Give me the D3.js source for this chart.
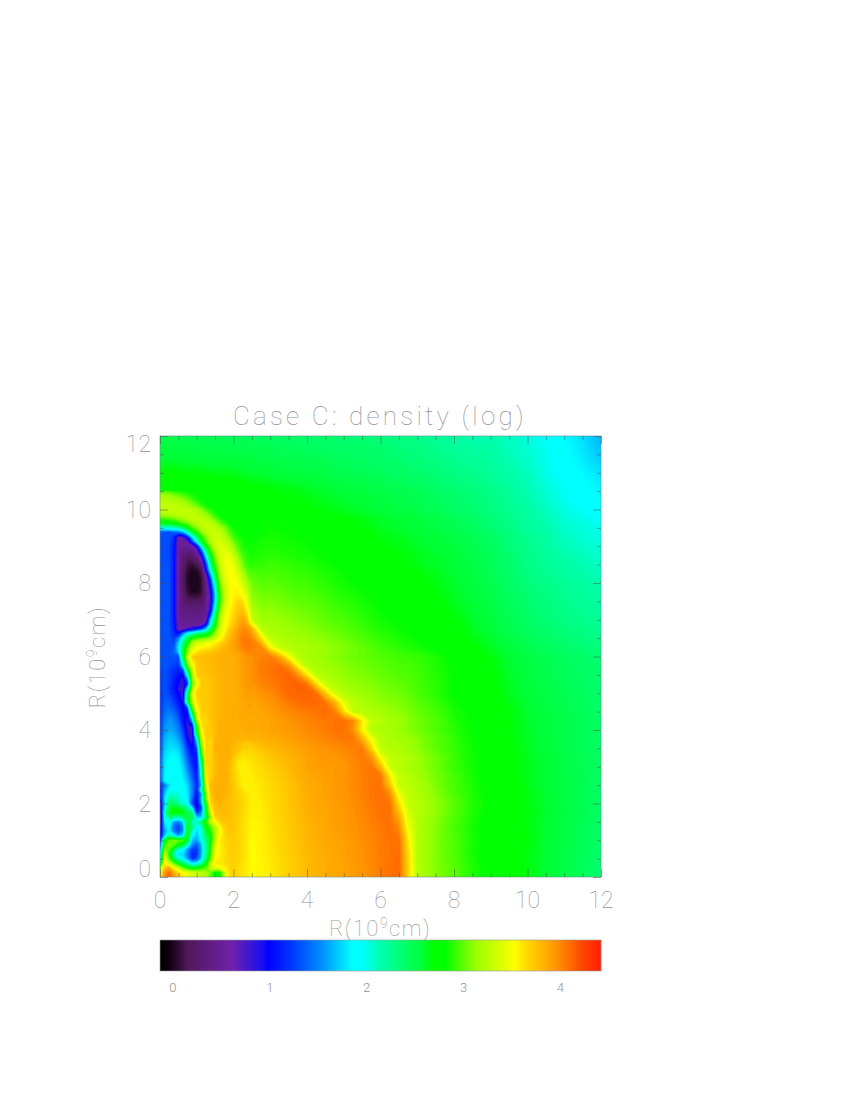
<!DOCTYPE html>
<html>
<head>
<meta charset="utf-8">
<script src="https://cdn.jsdelivr.net/npm/d3@7"></script>
<style>
  html, body { margin: 0; background: #fff; }
  text { font-family: Roboto, "Open Sans", sans-serif; font-weight: 100; fill: #949494; }
  .axis path { display: none; }
  .axis line { stroke: #4d4d4d; stroke-opacity: .5; }
</style>
</head>
<body>
<svg id="chart" width="850" height="1100"></svg>
<script>
//Tick values
var majorTicks = [0, 2, 4, 6, 8, 10, 12];
var minorTicks = [0.5, 1, 1.5, 2.5, 3, 3.5, 4.5, 5, 5.5, 6.5, 7, 7.5, 8.5, 9, 9.5, 10.5, 11, 11.5];
var barTicks = [0, 1, 2, 3, 4];

//Colour table (log density -> colour)
var colorStops = [-0.134, -0.05, 0.15, 0.61, 0.92, 0.98, 1.2, 1.54, 1.85, 1.95, 2.16, 2.6, 2.68, 2.81, 3.12, 3.53, 3.64, 3.95, 4.23, 4.42];
var colorNames = ["#000000", "#0a0008", "#50185a", "#7020a8", "#1a10f0", "#0000ff", "#0030ff", "#0090ff", "#00ffff", "#00ffff", "#00ffaa", "#00ff30", "#00ff00", "#00ff00", "#96ff00", "#ffff00", "#ffdc00", "#ff9600", "#ff4600", "#ff1e00"];

//Log density x 100, whole plot, rows from R=12 down to R=0, columns R=0 to R=12, step 0.25
var density = [
[252,251,251,250,250,249,249,248,248,247,247,246,245,244,243,242,241,240,240,239,238,237,237,236,235,233,232,230,228,226,224,222,220,218,215,213,216,214,211,208,205,200,196,190,185,181,177,171,165],
[255,255,254,254,253,253,252,252,251,250,249,249,248,247,246,245,244,243,243,242,241,240,240,239,238,236,234,233,231,229,227,225,223,221,220,219,218,215,212,210,207,202,198,193,187,183,179,173,168],
[259,258,258,257,257,256,256,255,255,254,253,252,251,250,249,249,248,247,246,245,244,243,242,241,240,238,237,235,234,232,230,228,226,224,222,221,220,217,214,211,208,204,200,194,188,184,180,175,170],
[264,263,263,262,262,261,260,260,259,258,257,256,255,254,253,253,252,251,250,248,247,246,245,244,243,241,240,238,237,235,233,231,229,227,225,224,222,219,216,213,210,205,200,195,190,186,182,178,174],
[270,270,269,268,268,267,266,265,265,263,261,260,258,257,256,256,255,254,253,251,250,249,248,247,246,244,243,241,240,238,236,234,232,230,228,226,224,221,218,215,212,207,202,197,193,189,185,181,178],
[274,274,274,273,273,272,271,271,270,269,267,266,265,264,263,262,261,259,258,256,255,254,253,251,250,248,247,245,244,242,240,237,235,233,231,229,227,224,220,217,214,209,205,200,196,192,188,184,181],
[286,285,284,281,278,275,274,273,272,271,270,270,270,268,267,266,265,263,262,260,258,257,256,255,254,252,251,249,248,246,243,241,239,237,235,232,230,227,223,219,216,211,207,202,198,195,191,187,184],
[322,321,316,306,288,278,276,275,274,274,273,273,273,272,270,269,268,266,265,263,261,260,259,258,256,255,253,252,250,248,246,244,241,239,237,235,232,229,225,221,218,213,209,204,200,197,194,190,187],
[330,330,330,328,320,296,281,279,277,276,276,275,275,274,273,271,270,268,267,265,264,263,261,260,258,257,255,254,252,250,248,245,243,241,239,236,233,230,227,223,220,216,212,207,203,200,197,193,190],
[296,296,310,325,330,325,296,281,280,279,279,278,282,280,278,277,276,274,272,271,269,268,266,265,263,262,260,259,257,255,253,251,248,245,243,239,236,233,229,225,221,218,215,211,207,204,202,199,196],
[200,200,212,272,310,330,325,296,280,280,280,281,284,283,282,280,278,276,275,273,271,269,268,267,264,263,262,260,258,256,255,253,250,248,246,242,238,235,232,228,223,220,217,214,209,207,205,202,199],
[105,105,70,110,220,300,330,315,285,283,282,284,286,285,284,283,282,280,278,276,274,272,271,270,267,266,265,263,261,259,258,256,254,252,249,246,242,239,235,231,226,223,220,216,211,209,207,204,201],
[105,105,55,50,100,240,325,340,300,285,284,287,288,287,286,285,284,282,280,278,276,275,273,272,270,268,266,265,263,261,259,258,256,254,250,248,245,241,236,232,228,224,220,217,214,212,209,207,205],
[105,105,50,35,50,170,300,340,320,292,286,289,290,289,288,287,286,284,282,280,278,277,275,274,272,270,269,267,265,263,262,260,258,256,253,250,247,243,239,234,230,227,223,220,217,215,213,210,208],
[105,110,50,25,40,100,290,335,320,300,290,292,294,293,292,290,289,287,285,283,280,279,277,276,273,271,270,268,266,264,263,261,259,257,255,251,248,244,240,236,231,228,225,222,219,217,215,213,211],
[105,110,50,15,5,50,240,330,340,310,300,296,297,296,295,293,292,290,288,286,283,281,280,278,275,274,272,270,269,267,265,263,260,258,255,252,249,245,241,238,233,230,227,224,221,219,217,215,213],
[105,110,50,10,0,40,220,325,350,320,305,300,301,299,297,295,295,292,290,287,285,283,281,279,277,275,274,272,271,269,267,264,262,259,256,253,250,246,242,239,235,232,229,227,224,222,220,218,216],
[105,110,50,8,0,45,220,325,352,335,310,304,304,303,301,298,298,295,293,290,288,286,284,282,279,277,276,274,272,270,268,266,263,261,257,255,252,248,244,241,237,234,232,229,226,224,222,220,218],
[105,110,50,15,10,50,240,330,355,350,315,308,308,306,304,302,301,299,296,293,291,289,286,284,281,279,278,276,274,272,270,268,264,262,259,257,254,250,246,243,239,236,234,231,228,226,224,222,220],
[105,110,50,30,30,50,230,330,360,365,325,312,312,310,308,306,304,302,299,296,294,291,289,286,283,281,280,278,275,273,272,270,266,264,261,258,255,251,248,245,240,238,235,233,230,228,226,224,222],
[105,110,50,45,45,50,220,330,365,370,330,318,316,314,312,309,307,304,302,299,297,294,291,288,285,283,282,280,277,275,273,271,268,266,262,259,257,253,249,246,242,239,237,234,232,230,228,226,224],
[105,110,55,50,60,100,230,340,370,385,385,328,320,318,316,313,311,308,305,303,300,297,294,291,288,286,284,282,279,277,275,273,270,268,264,261,259,255,251,248,245,242,240,237,235,233,231,229,227],
[105,110,170,285,320,320,310,350,380,392,400,365,328,324,320,317,315,312,309,307,304,301,298,295,292,290,287,285,282,280,277,275,273,271,267,264,262,258,254,251,248,245,243,240,238,236,234,232,230],
[105,110,180,305,352,355,365,385,388,395,405,400,355,330,325,322,320,317,314,311,309,305,303,299,295,293,291,288,286,283,280,278,276,274,270,267,264,261,257,254,251,248,246,243,241,239,237,235,233],
[105,108,190,340,375,382,385,385,385,392,398,403,405,386,350,326,320,317,313,310,307,305,303,301,299,297,295,294,293,290,287,284,280,277,273,270,267,264,260,257,254,252,250,247,245,243,241,239,237],
[105,105,125,270,365,378,380,382,385,392,398,405,408,410,398,356,324,320,317,313,310,307,305,303,301,299,297,296,294,291,288,285,281,278,274,272,269,265,262,259,255,253,251,248,246,244,242,240,238],
[105,108,115,170,360,375,378,382,385,392,398,405,408,411,413,398,363,328,321,317,313,310,308,306,303,301,299,298,295,292,289,286,282,279,275,273,270,267,263,260,256,254,252,249,247,245,243,241,239],
[105,110,115,100,350,372,376,382,385,390,396,402,405,409,413,415,408,368,333,323,318,314,311,309,306,304,302,300,296,293,290,287,282,280,276,274,271,267,264,261,257,255,253,250,248,246,244,242,240],
[105,115,120,95,340,372,376,380,385,388,392,396,400,406,412,414,414,409,373,337,325,319,315,312,309,307,305,302,297,294,290,286,282,280,276,274,271,268,264,262,258,256,254,251,249,247,245,242,240],
[105,118,135,90,320,372,376,380,384,386,388,392,396,401,406,410,412,413,408,383,345,328,322,317,313,310,308,305,300,297,293,289,284,282,278,276,273,270,266,264,260,257,255,253,250,248,246,243,241],
[105,130,145,85,300,370,378,382,385,387,388,390,393,397,401,404,406,408,411,404,367,330,325,321,319,315,312,308,303,300,296,292,286,284,280,278,274,271,268,265,261,258,256,254,251,249,247,244,242],
[108,140,155,80,260,372,380,384,385,386,387,388,390,393,396,399,402,404,406,408,410,400,360,330,325,320,315,311,305,302,298,294,288,285,282,279,275,272,269,266,262,259,257,254,252,250,247,245,243],
[110,150,165,85,270,372,380,384,385,386,387,388,390,392,394,397,400,402,405,408,410,397,357,325,322,320,315,310,306,302,298,294,290,286,282,279,275,272,268,266,263,260,257,255,252,250,247,245,242],
[110,160,172,100,190,365,382,385,385,382,382,384,386,388,391,394,397,399,402,404,406,408,385,350,326,322,319,316,311,306,301,297,292,287,283,280,276,273,269,266,263,261,258,255,252,250,247,245,242],
[112,165,178,105,120,375,385,385,380,372,370,375,380,383,386,389,393,395,397,399,401,403,406,370,330,324,322,318,311,306,301,297,293,288,284,281,276,274,270,267,264,261,258,256,253,250,248,245,243],
[115,172,185,130,105,345,382,385,375,362,364,369,375,379,382,386,391,393,395,396,398,402,405,398,352,330,326,323,316,310,305,300,294,289,285,282,277,275,271,268,265,262,259,257,254,251,249,246,243],
[120,178,188,140,105,350,380,385,370,358,362,366,370,375,380,385,390,392,393,394,395,400,405,408,380,335,325,321,316,310,305,299,294,289,285,281,277,275,271,268,265,262,260,257,254,251,249,246,243],
[120,180,192,160,110,345,382,385,372,358,360,364,368,373,378,383,388,390,392,394,396,400,404,407,408,360,330,325,319,312,306,301,296,291,286,282,278,275,272,268,265,263,260,257,255,252,249,246,243],
[110,175,195,175,115,340,385,385,375,360,358,362,366,370,376,381,386,388,391,394,396,400,404,407,410,376,332,328,322,315,308,302,297,292,287,283,279,276,272,269,266,263,260,257,255,252,249,245,242],
[100,205,205,180,105,305,385,385,375,364,358,361,365,370,375,380,385,388,391,394,396,399,403,407,410,400,348,330,324,317,310,304,298,293,288,284,279,277,273,269,267,264,261,258,255,252,249,245,242],
[85,240,225,190,90,280,375,378,375,368,358,360,365,370,375,380,385,388,390,393,395,398,402,406,410,408,364,330,326,319,312,306,300,295,289,285,280,277,274,270,267,264,261,258,255,252,249,245,242],
[60,270,280,250,120,260,380,380,375,366,358,359,364,369,374,379,384,387,389,392,394,397,401,405,409,409,380,338,326,319,312,306,299,294,288,284,279,277,273,270,267,265,262,259,256,253,249,246,242],
[60,200,150,260,210,290,350,378,375,365,356,358,363,368,373,378,383,386,389,392,394,397,400,404,407,410,394,344,325,317,310,304,298,293,287,282,278,275,272,269,267,264,261,258,255,252,248,245,241],
[80,185,130,270,175,260,330,368,374,365,356,358,363,368,372,377,382,385,388,391,393,396,399,403,406,409,403,352,324,316,309,303,297,292,286,281,277,275,272,269,268,265,261,258,255,252,248,245,241],
[100,300,300,260,160,235,330,365,372,365,355,358,362,367,372,377,382,385,388,390,392,395,398,402,405,408,410,360,325,316,309,303,299,293,287,282,278,275,272,270,268,265,261,258,255,252,248,245,241],
[150,300,200,160,125,220,345,368,372,365,355,358,362,366,371,376,381,384,387,389,391,394,397,401,405,408,410,365,325,316,309,303,298,292,286,281,277,274,272,269,267,264,260,257,254,251,247,244,240],
[200,300,205,160,135,235,355,370,371,364,355,357,361,365,370,375,380,383,386,388,391,394,397,401,405,408,411,368,325,316,309,303,299,293,287,282,278,275,272,269,267,264,260,257,254,250,247,243,239],
[300,385,330,280,270,300,345,365,370,362,355,357,360,365,370,375,380,383,386,388,390,393,396,400,405,409,412,370,326,316,309,304,300,294,288,283,278,275,272,269,267,264,260,257,254,250,247,242,238],
[350,415,375,350,335,320,270,325,370,362,355,357,360,365,370,375,380,383,386,388,390,393,396,400,405,409,412,370,326,317,310,305,300,294,288,283,278,275,272,269,267,264,260,257,254,250,247,242,238]
];

//Finer reading of the jet and its wall: R=10.5 down to 2.5, columns R=0 to 2.5, step 0.125
var densityJet = [
[298,298,296,292,288,285,282,280,278,276,275,274,274,274,273,273,272,272,271,271,270],
[318,317,315,310,305,300,294,288,283,279,276,275,275,275,274,274,273,273,273,272,272],
[326,326,324,321,318,314,306,298,288,283,278,277,276,276,275,275,274,274,274,273,273],
[329,329,328,327,325,322,318,310,302,292,284,280,279,278,277,276,275,275,275,275,274],
[330,330,330,330,330,330,328,325,320,310,296,288,281,280,279,278,277,277,276,276,276],
[322,322,324,326,328,330,330,329,326,320,312,300,288,282,280,279,278,278,277,277,277],
[296,296,300,305,312,318,325,328,330,328,325,315,302,290,283,280,280,279,279,279,279],
[270,268,270,276,285,297,305,318,325,330,330,327,318,305,292,284,281,280,280,280,280],
[200,200,203,208,215,240,272,295,310,322,330,331,328,322,310,295,285,281,280,280,280],
[130,130,130,135,140,155,200,250,285,310,325,332,332,328,318,302,290,283,281,281,281],
[130,130,130,120,65,75,110,180,240,285,310,328,334,334,325,310,296,287,283,282,282],
[130,132,130,115,55,50,70,120,190,260,300,325,336,338,333,322,306,294,286,284,283],
[130,132,130,110,55,50,50,60,95,190,265,310,332,340,340,332,315,300,288,285,284],
[130,132,130,110,52,42,40,45,65,130,225,290,325,340,343,338,322,304,292,287,285],
[130,132,130,110,50,35,25,30,48,90,185,265,315,338,346,345,332,312,296,289,286],
[130,132,130,110,50,30,15,15,30,60,150,250,305,335,348,350,338,320,302,291,288],
[130,134,132,110,50,28,10,8,15,40,120,220,295,330,345,352,342,326,306,293,290],
[130,134,132,110,50,25,8,3,6,20,100,200,280,325,345,353,350,332,315,298,294],
[130,134,132,110,50,22,5,0,2,10,70,165,260,320,342,352,352,340,325,305,298],
[130,134,132,110,50,20,4,0,0,8,50,130,240,315,340,350,354,345,330,312,302],
[130,134,132,110,50,20,5,0,0,6,42,110,215,305,335,350,355,350,335,318,305],
[130,134,132,110,50,22,6,0,0,6,40,95,195,295,332,350,356,352,342,325,308],
[130,134,132,110,50,25,8,2,2,8,40,85,180,290,330,348,357,358,350,332,310],
[130,134,132,110,50,28,14,10,10,15,42,80,175,285,330,348,358,362,355,338,312],
[130,134,132,110,50,32,22,18,18,22,44,80,180,285,330,350,360,368,365,345,315],
[130,134,132,110,50,35,30,28,28,30,46,85,195,295,335,352,362,372,370,350,322],
[130,134,132,110,50,40,36,36,36,38,48,95,215,305,340,355,365,375,378,358,325],
[130,134,132,110,50,42,42,42,42,42,50,130,240,315,345,358,368,378,385,366,328],
[130,134,132,110,52,45,45,45,45,45,55,170,255,325,348,360,370,382,390,376,330],
[130,134,132,112,55,50,50,50,50,55,90,190,270,330,350,362,375,385,395,388,352],
[130,134,132,115,62,62,80,95,110,130,170,240,295,335,352,368,382,392,400,397,385],
[130,134,132,118,100,150,190,210,230,240,255,280,315,340,358,375,385,395,402,402,395],
[130,134,132,125,150,200,255,280,295,300,305,315,335,350,365,380,388,397,405,405,400],
[130,134,132,130,170,225,280,320,335,340,345,350,358,365,375,385,390,397,405,408,405],
[130,134,132,135,180,245,300,335,350,355,358,362,368,375,382,386,390,397,402,405,405],
[130,134,132,138,170,255,315,348,362,368,370,374,378,382,385,386,388,392,398,402,402],
[130,134,132,135,130,250,335,370,378,378,380,380,382,384,385,385,385,389,393,397,398],
[130,134,130,132,125,215,320,360,375,378,380,380,382,384,385,385,385,389,393,397,398],
[128,134,130,125,120,185,300,345,372,376,378,380,382,384,385,385,385,388,392,396,398],
[125,134,128,118,115,130,250,335,372,376,378,380,381,383,385,385,385,388,392,396,398],
[125,132,126,115,105,100,205,320,372,376,376,378,380,382,385,385,385,388,392,396,398],
[125,132,126,112,100,85,150,310,355,372,374,378,380,382,384,385,385,388,392,395,398],
[125,132,125,110,95,80,120,300,350,372,373,376,380,382,384,385,385,388,391,395,396],
[122,132,125,110,90,75,190,320,362,372,373,376,380,382,384,385,385,387,391,394,396],
[120,132,128,112,100,80,240,340,370,373,373,376,380,382,384,385,385,387,390,393,392],
[120,134,132,118,105,85,245,335,368,372,373,376,380,382,384,385,385,387,390,392,390],
[118,136,136,125,110,95,245,325,362,372,373,376,380,382,384,384,384,386,388,390,392],
[118,140,142,132,118,95,140,300,355,372,372,376,380,382,384,384,384,386,388,390,392],
[118,142,148,140,125,100,105,265,345,372,372,378,380,382,385,385,385,386,387,388,388],
[118,146,154,148,132,105,95,205,340,370,370,376,380,382,384,385,385,386,387,388,388],
[118,150,158,152,138,110,85,165,320,365,368,376,380,384,385,385,385,386,386,387,387],
[118,154,160,156,145,118,80,100,285,362,370,374,380,384,385,385,385,385,386,387,387],
[120,156,162,160,150,125,85,75,270,350,372,372,380,384,385,385,385,385,386,387,387],
[120,160,168,165,155,132,90,75,250,345,372,370,380,384,385,385,385,385,384,385,385],
[122,164,172,170,162,140,100,78,185,330,370,368,382,385,385,385,384,382,382,382,382],
[124,168,176,174,168,148,112,88,160,320,370,365,382,385,385,385,382,378,374,372,372],
[126,172,178,178,174,155,122,100,130,300,370,368,384,385,385,385,380,376,372,370,370],
[128,175,182,183,180,160,130,105,115,285,370,368,382,385,385,385,378,372,364,364,366],
[130,178,185,188,184,165,138,110,110,255,370,368,380,385,385,385,375,366,362,364,364],
[132,180,188,190,186,170,145,115,105,235,368,368,380,385,385,382,372,362,358,360,362],
[134,180,188,192,190,175,150,122,105,215,365,368,380,385,385,380,370,360,358,360,362],
[134,182,190,195,192,178,158,130,108,205,362,368,380,385,385,380,371,362,358,359,361],
[132,184,192,198,195,180,165,135,110,195,360,370,380,385,385,382,372,363,358,358,360],
[130,186,194,200,198,183,170,142,112,185,355,375,382,385,385,381,374,364,359,358,359],
[110,150,175,190,195,190,175,150,115,170,340,380,385,385,385,380,375,366,360,359,358]
];

//Finer reading of the turbulent base of the jet: R=2.5 down to 0, columns R=0 to 2, step 0.125
var densityBase = [
[110,150,175,190,195,190,175,150,115,170,340,380,385,385,385,380,375],
[105,160,190,198,200,190,178,150,110,200,330,378,384,385,385,380,375],
[100,170,205,210,205,195,180,150,105,160,305,375,385,385,385,380,375],
[95,175,225,220,210,200,185,140,100,170,300,372,384,384,382,378,375],
[85,170,240,245,225,205,190,130,90,160,280,365,380,382,380,378,375],
[70,180,255,270,265,245,225,180,95,130,250,355,378,380,380,378,375],
[60,200,270,285,280,270,250,230,120,150,260,340,375,378,380,378,375],
[55,190,235,220,215,240,255,250,170,170,240,320,370,375,378,376,375],
[60,180,200,160,150,175,260,210,210,240,290,330,350,368,375,376,375],
[70,170,190,145,125,160,265,240,185,215,270,300,330,355,370,375,375],
[80,160,185,150,130,155,270,210,175,200,260,290,320,350,368,374,374],
[90,170,230,190,160,185,275,190,170,195,250,270,325,352,366,372,373],
[100,260,300,310,300,300,260,170,160,190,235,270,330,360,365,370,372],
[120,290,310,300,280,260,200,155,135,170,225,280,340,358,364,370,372],
[150,310,300,250,200,190,160,125,125,165,220,285,345,358,364,370,372],
[180,340,280,220,175,178,150,115,120,165,225,290,350,358,364,370,371],
[200,350,300,250,205,185,160,120,135,175,235,300,355,360,364,368,371],
[240,355,330,300,270,240,210,180,185,220,270,325,360,362,365,368,371],
[300,375,385,350,330,300,280,265,270,285,300,335,345,350,358,366,370],
[340,395,410,385,365,350,345,335,330,325,320,305,275,280,330,365,370],
[350,400,415,395,375,360,350,340,335,330,320,300,270,275,325,365,370]
];

[density, densityJet, densityBase].forEach(function(grid) {
  grid.forEach(function(row, i) {
    if (row.length != grid[0].length) throw new Error("row " + i + " has " + row.length);
  });
});

//Setup size vars
var plot = { left: 160, right: 601, top: 436, bottom: 877 };
var bar = { top: 940, bottom: 971 };

var x = d3.scaleLinear().domain([0, 12]).range([plot.left, plot.right]);
var y = d3.scaleLinear().domain([0, 12]).range([plot.bottom, plot.top]);
var color = d3.scaleLinear().domain(colorStops).range(colorNames).clamp(true);
var barX = d3.scaleLinear().domain([-0.134, 4.42]).range([plot.left, plot.right]);

var svg = d3.select("#chart");

var thresholds = d3.range(-14, 442, 2);

//Fills one grid of values as stacked contour bands, clipped to its own box
function drawField(grid, xMax, yMax, yMin) {
  var ny = grid.length, nx = grid[0].length;
  var gx = d3.scaleLinear().domain([0.5, nx - 0.5]).range([x(0), x(xMax)]);
  var gy = d3.scaleLinear().domain([0.5, ny - 0.5]).range([y(yMax), y(yMin)]);
  var path = d3.geoPath(d3.geoTransform({
    point: function(px, py) { this.stream.point(gx(px), gy(py)); }
  }));
  var clipId = "clip" + yMax + "_" + xMax;
  svg.append("clipPath").attr("id", clipId).append("rect")
    .attr("x", x(0)).attr("y", y(yMax))
    .attr("width", x(xMax) - x(0)).attr("height", y(yMin) - y(yMax));
  var contours = d3.contours().size([nx, ny]).thresholds(thresholds)(grid.flat());
  svg.append("g")
    .attr("clip-path", "url(#" + clipId + ")")
    .selectAll("path")
    .data(contours)
    .enter()
    .append("path")
    .attr("d", path)
    .attr("fill", function(d) { return color(d.value / 100); });
}

drawField(density, 12, 12, 0);
drawField(densityJet, 2.5, 10.5, 2.5);
drawField(densityBase, 2, 2.5, 0);

//Frame
svg.append("rect")
  .attr("x", plot.left).attr("y", plot.top)
  .attr("width", plot.right - plot.left).attr("height", plot.bottom - plot.top)
  .attr("fill", "none").attr("stroke", "#6f8f8f").attr("stroke-opacity", .6);

//Major and minor ticks, pointing inward on all four sides
function addAxis(make, scale, tx, ty) {
  svg.append("g").attr("class", "axis").attr("transform", "translate(" + tx + "," + ty + ")")
    .call(make(scale).tickValues(majorTicks).tickSize(-8).tickFormat(""));
  svg.append("g").attr("class", "axis").attr("transform", "translate(" + tx + "," + ty + ")")
    .call(make(scale).tickValues(minorTicks).tickSize(-4).tickFormat(""));
}
addAxis(d3.axisBottom, x, 0, plot.bottom);
addAxis(d3.axisTop, x, 0, plot.top);
addAxis(d3.axisLeft, y, plot.left, 0);
addAxis(d3.axisRight, y, plot.right, 0);

//Tick labels
svg.selectAll(".xLabel")
  .data(majorTicks)
  .enter()
  .append("text")
  .attr("class", "xLabel")
  .attr("x", function(d) { return x(d); })
  .attr("y", 908)
  .attr("text-anchor", "middle")
  .style("font-size", "23px")
  .text(function(d) { return d; });

svg.selectAll(".yLabel")
  .data(majorTicks)
  .enter()
  .append("text")
  .attr("class", "yLabel")
  .attr("x", 151)
  .attr("y", function(d) {
    //0 and 12 sit inside the axis ends
    return y(d) + (d == 12 ? 16 : d == 0 ? 0 : 8);
  })
  .attr("text-anchor", "end")
  .style("font-size", "23px")
  .text(function(d) { return d; });

//Title and axis labels
svg.append("text")
  .attr("x", 380).attr("y", 425)
  .attr("text-anchor", "middle")
  .style("font-size", "26px")
  .style("letter-spacing", "3.2px")
  .text("Case C: density (log)");

function axisTitle(g) {
  g.attr("text-anchor", "middle").style("font-size", "22px").style("letter-spacing", "1.5px");
  g.append("tspan").text("R(10");
  g.append("tspan").attr("dy", -8).style("font-size", "14px").text("9");
  g.append("tspan").attr("dy", 8).text("cm)");
}
svg.append("text").attr("x", 380).attr("y", 936).call(axisTitle);
svg.append("text").attr("transform", "translate(105,657) rotate(-90)").call(axisTitle);

//Colour bar
svg.append("g")
  .selectAll("rect")
  .data(d3.range(plot.left, plot.right))
  .enter()
  .append("rect")
  .attr("x", function(d) { return d; })
  .attr("y", bar.top)
  .attr("width", 1.2)
  .attr("height", bar.bottom - bar.top)
  .attr("fill", function(d) { return color(barX.invert(d + 0.5)); });

svg.append("rect")
  .attr("x", plot.left).attr("y", bar.top)
  .attr("width", plot.right - plot.left).attr("height", bar.bottom - bar.top)
  .attr("fill", "none").attr("stroke", "#999").attr("stroke-opacity", .6);

svg.selectAll(".barLabel")
  .data(barTicks)
  .enter()
  .append("text")
  .attr("class", "barLabel")
  .attr("x", function(d) { return barX(d); })
  .attr("y", 992)
  .attr("text-anchor", "middle")
  .style("font-size", "13px")
  .style("font-weight", 300)
  .text(function(d) { return d; });
</script>
</body>
</html>
